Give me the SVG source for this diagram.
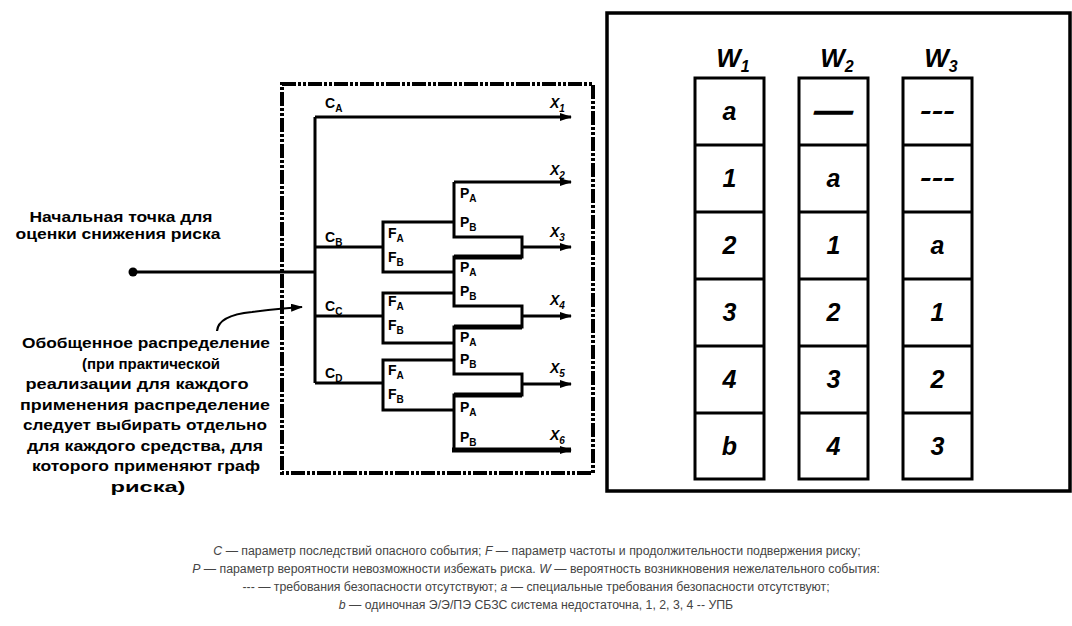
<svg xmlns="http://www.w3.org/2000/svg" width="1072" height="626" viewBox="0 0 1072 626">
<defs>
<style>
.ln{fill:none;stroke:#000;stroke-width:3}
.thk{fill:none;stroke:#000;stroke-width:5}
.lbl{font-family:"Liberation Sans",Arial,sans-serif;font-weight:bold;font-size:14px;fill:#000}
.sub{font-size:10px}
.xl{font-family:"Liberation Sans",Arial,sans-serif;font-weight:bold;font-style:italic;font-size:14px;fill:#000}
.note{font-family:"Liberation Sans",Arial,sans-serif;font-weight:bold;font-size:15px;fill:#000;text-anchor:middle}
.cell{font-family:"Liberation Sans",Arial,sans-serif;font-weight:bold;font-style:italic;font-size:25px;fill:#000;text-anchor:middle}
.hdr{font-family:"Liberation Sans",Arial,sans-serif;font-weight:bold;font-style:italic;font-size:26px;fill:#000;text-anchor:middle}
.cap{font-family:"Liberation Sans",Arial,sans-serif;font-size:12.3px;fill:#444;text-anchor:middle}
.it{font-style:italic}
.col{fill:#fff;stroke:#000;stroke-width:3}
</style>
<marker id="arr" markerUnits="userSpaceOnUse" markerWidth="12" markerHeight="10" refX="11" refY="4" orient="auto">
<path d="M0,0 L12,4 L0,8 z" fill="#000"/>
</marker>
</defs>
<rect width="1072" height="626" fill="#fff"/>

<g id="dashed-frame">
<rect x="282" y="84" width="311" height="389" fill="none" stroke="#000" stroke-width="4" stroke-dasharray="14 2 3 2 3 2"/>
</g>

<g id="start-note">
<text class="note" x="121" y="222" textLength="183" lengthAdjust="spacingAndGlyphs">Начальная точка для</text>
<text class="note" x="118" y="239" textLength="205" lengthAdjust="spacingAndGlyphs">оценки снижения риска</text>
</g>

<g id="distribution-note">
<text class="note" x="146" y="348" textLength="248" lengthAdjust="spacingAndGlyphs">Обобщенное распределение</text>
<text class="note" x="151" y="368.5" textLength="138" lengthAdjust="spacingAndGlyphs">(при практической</text>
<text class="note" x="137" y="389" textLength="223" lengthAdjust="spacingAndGlyphs">реализации для каждого</text>
<text class="note" x="145" y="409.5" textLength="250" lengthAdjust="spacingAndGlyphs">применения распределение</text>
<text class="note" x="145" y="430" textLength="244" lengthAdjust="spacingAndGlyphs">следует выбирать отдельно</text>
<text class="note" x="145" y="450.5" textLength="236" lengthAdjust="spacingAndGlyphs">для каждого средства, для</text>
<text class="note" x="146" y="471" textLength="228" lengthAdjust="spacingAndGlyphs">которого применяют граф</text>
<text class="note" x="148" y="491.5" textLength="75" lengthAdjust="spacingAndGlyphs">риска)</text>
</g>

<g id="connectors">
<circle cx="133" cy="272" r="4.5" fill="#000"/>
<path class="ln" d="M133,272 H315"/>
<path class="ln" d="M315,117 V383"/>
<path class="ln" d="M315,117 H571" marker-end="url(#arr)"/>
<path class="ln" d="M315,247 H383"/>
<path class="ln" d="M315,316 H383"/>
<path class="ln" d="M315,383 H383"/>
<path class="ln" d="M454,222 H383 V272 H454"/>
<path class="ln" d="M454,293 H383 V343 H454"/>
<path class="ln" d="M454,360 H383 V410 H454"/>
<path class="ln" d="M454,182 V237 H522 V257 H454 V306 H522 V327 H454 V374 H522 V395 H454 V450"/>
<path class="thk" d="M454,257 H522 M454,327 H522 M454,395 H522"/>
<path class="ln" d="M454,182 H571" marker-end="url(#arr)"/>
<path class="ln" d="M522,247 H571" marker-end="url(#arr)"/>
<path class="ln" d="M522,316 H571" marker-end="url(#arr)"/>
<path class="ln" d="M522,384 H571" marker-end="url(#arr)"/>
<path class="thk" d="M452,450 H571" marker-end="url(#arr)"/>
<path fill="none" stroke="#000" stroke-width="2.2" d="M217,331 C218,319 232,314 252,312 C268,310 285,308 302,307" marker-end="url(#arr)"/>
</g>

<g id="tree-labels">
<text class="lbl" x="325" y="108">C<tspan class="sub" dy="4">A</tspan></text>
<text class="lbl" x="325" y="242">C<tspan class="sub" dy="4">B</tspan></text>
<text class="lbl" x="325" y="311">C<tspan class="sub" dy="4">C</tspan></text>
<text class="lbl" x="325" y="378">C<tspan class="sub" dy="4">D</tspan></text>
<text class="lbl" x="388" y="238">F<tspan class="sub" dy="4">A</tspan></text>
<text class="lbl" x="388" y="262">F<tspan class="sub" dy="4">B</tspan></text>
<text class="lbl" x="388" y="306">F<tspan class="sub" dy="4">A</tspan></text>
<text class="lbl" x="388" y="330">F<tspan class="sub" dy="4">B</tspan></text>
<text class="lbl" x="388" y="375">F<tspan class="sub" dy="4">A</tspan></text>
<text class="lbl" x="388" y="399">F<tspan class="sub" dy="4">B</tspan></text>
<text class="lbl" x="460" y="198">P<tspan class="sub" dy="4">A</tspan></text>
<text class="lbl" x="460" y="227">P<tspan class="sub" dy="4">B</tspan></text>
<text class="lbl" x="460" y="272">P<tspan class="sub" dy="4">A</tspan></text>
<text class="lbl" x="460" y="296">P<tspan class="sub" dy="4">B</tspan></text>
<text class="lbl" x="460" y="342">P<tspan class="sub" dy="4">A</tspan></text>
<text class="lbl" x="460" y="364">P<tspan class="sub" dy="4">B</tspan></text>
<text class="lbl" x="460" y="412">P<tspan class="sub" dy="4">A</tspan></text>
<text class="lbl" x="460" y="442">P<tspan class="sub" dy="4">B</tspan></text>
<text class="xl" x="550" y="108">X<tspan class="sub" dy="4">1</tspan></text>
<text class="xl" x="550" y="175">X<tspan class="sub" dy="4">2</tspan></text>
<text class="xl" x="550" y="237">X<tspan class="sub" dy="4">3</tspan></text>
<text class="xl" x="550" y="305">X<tspan class="sub" dy="4">4</tspan></text>
<text class="xl" x="550" y="373">X<tspan class="sub" dy="4">5</tspan></text>
<text class="xl" x="550" y="440">X<tspan class="sub" dy="4">6</tspan></text>
</g>

<g id="w-table">
<rect x="607" y="13" width="463" height="478" fill="none" stroke="#000" stroke-width="3.5"/>
<g id="col-w1">
<text class="hdr" x="733" y="67">W<tspan font-size="16" dy="5">1</tspan></text>
<rect class="col" x="695" y="78" width="69" height="401"/>
<path class="ln" d="M695,145 H764 M695,212 H764 M695,279 H764 M695,346 H764 M695,413 H764"/>
<text class="cell" x="729.5" y="120">a</text>
<text class="cell" x="729.5" y="187">1</text>
<text class="cell" x="729.5" y="254">2</text>
<text class="cell" x="729.5" y="321">3</text>
<text class="cell" x="729.5" y="388">4</text>
<text class="cell" x="729.5" y="455">b</text>
</g>
<g id="col-w2">
<text class="hdr" x="837" y="67">W<tspan font-size="16" dy="5">2</tspan></text>
<rect class="col" x="799" y="78" width="69" height="401"/>
<path class="ln" d="M799,145 H868 M799,212 H868 M799,279 H868 M799,346 H868 M799,413 H868"/>
<text class="cell" x="833.5" y="120" font-style="normal" stroke="#000" stroke-width="1.5" textLength="37" lengthAdjust="spacingAndGlyphs">—</text>
<text class="cell" x="833.5" y="187">a</text>
<text class="cell" x="833.5" y="254">1</text>
<text class="cell" x="833.5" y="321">2</text>
<text class="cell" x="833.5" y="388">3</text>
<text class="cell" x="833.5" y="455">4</text>
</g>
<g id="col-w3">
<text class="hdr" x="941" y="67">W<tspan font-size="16" dy="5">3</tspan></text>
<rect class="col" x="903" y="78" width="69" height="401"/>
<path class="ln" d="M903,145 H972 M903,212 H972 M903,279 H972 M903,346 H972 M903,413 H972"/>
<text class="cell" x="937.5" y="119" font-style="normal" textLength="35" lengthAdjust="spacingAndGlyphs">---</text>
<text class="cell" x="937.5" y="186" font-style="normal" textLength="35" lengthAdjust="spacingAndGlyphs">---</text>
<text class="cell" x="937.5" y="254">a</text>
<text class="cell" x="937.5" y="321">1</text>
<text class="cell" x="937.5" y="388">2</text>
<text class="cell" x="937.5" y="455">3</text>
</g>
</g>

<g id="caption">
<text class="cap" x="537" y="555"><tspan class="it">C</tspan> — параметр последствий опасного события; <tspan class="it">F</tspan> — параметр частоты и продолжительности подвержения риску;</text>
<text class="cap" x="536" y="573"><tspan class="it">P</tspan> — параметр вероятности невозможности избежать риска. <tspan class="it">W</tspan> — вероятность возникновения нежелательного события:</text>
<text class="cap" x="536" y="591">--- — требования безопасности отсутствуют; <tspan class="it">a</tspan> — специальные требования безопасности отсутствуют;</text>
<text class="cap" x="536" y="609"><tspan class="it">b</tspan> — одиночная Э/Э/ПЭ СБЗС система недостаточна, 1, 2, 3, 4 -- УПБ</text>
</g>
</svg>
